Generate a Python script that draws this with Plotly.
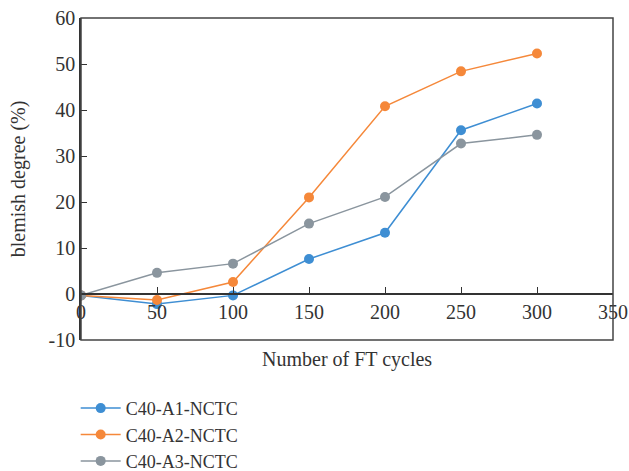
import plotly.graph_objects as go

cycles = [0, 50, 100, 150, 200, 250, 300]
a1 = [-0.3, -2.2, -0.3, 7.6, 13.3, 35.6, 41.4]
a2 = [-0.3, -1.3, 2.6, 21.0, 40.8, 48.4, 52.3]
a3 = [-0.3, 4.6, 6.6, 15.3, 21.1, 32.7, 34.6]
names = ["C40-A1-NCTC", "C40-A2-NCTC", "C40-A3-NCTC"]
colors = ["#3e8ed3", "#f5883a", "#8a959e"]
xticks = [0, 50, 100, 150, 200, 250, 300, 350]
yticks = [-10, 0, 10, 20, 30, 40, 50, 60]
ytext = ["-10", "0", "10", "20", "30", "40", "50", "60"]

FONT = "Liberation Serif"
fig = go.Figure()
for name, ys, c in zip(names, [a1, a2, a3], colors):
    fig.add_trace(go.Scatter(x=cycles, y=ys, name=name, mode="lines+markers",
                             line=dict(color=c, width=1.5),
                             marker=dict(color=c, size=10)))

fig.update_layout(
    width=629, height=471,
    margin=dict(l=81, r=16, t=18, b=131, autoexpand=False),
    paper_bgcolor="white", plot_bgcolor="white",
    font=dict(family=FONT, size=20, color="#333333"),
    showlegend=True,
    legend=dict(x=-0.01, xanchor="left", y=-0.155, yanchor="top", itemwidth=40,
                font=dict(family=FONT, size=18, color="#333333"),
                bgcolor="rgba(0,0,0,0)"),
    xaxis=dict(range=[0, 350], tickvals=xticks, automargin=False,
               showgrid=False, zeroline=False, showline=True, linecolor="#333333",
               linewidth=1.5, ticks="inside", ticklen=6, tickcolor="#333333",
               anchor="free", position=10/70,
               tickfont=dict(family=FONT, size=20)),
    yaxis=dict(range=[-10, 60], tickvals=yticks, ticktext=ytext, automargin=False,
               showgrid=False, zeroline=False, showline=True, linecolor="#333333",
               linewidth=1.5, ticks="inside", ticklen=6, tickcolor="#333333",
               tickfont=dict(family=FONT, size=20)),
    shapes=[dict(type="rect", xref="paper", yref="paper", x0=0, y0=0, x1=1, y1=1,
                 line=dict(color="#444444", width=1.5), layer="above")],
    annotations=[
        dict(text="Number of FT cycles", xref="paper", yref="paper",
             x=0.5, y=-0.02, xanchor="center", yanchor="top", showarrow=False,
             font=dict(family=FONT, size=20, color="#333333")),
        dict(text="blemish degree (%)", xref="paper", yref="paper", textangle=-90,
             x=-0.118, y=0.5, xanchor="center", yanchor="middle", showarrow=False,
             font=dict(family=FONT, size=20, color="#333333")),
    ],
)
fig.write_html("out.html")
